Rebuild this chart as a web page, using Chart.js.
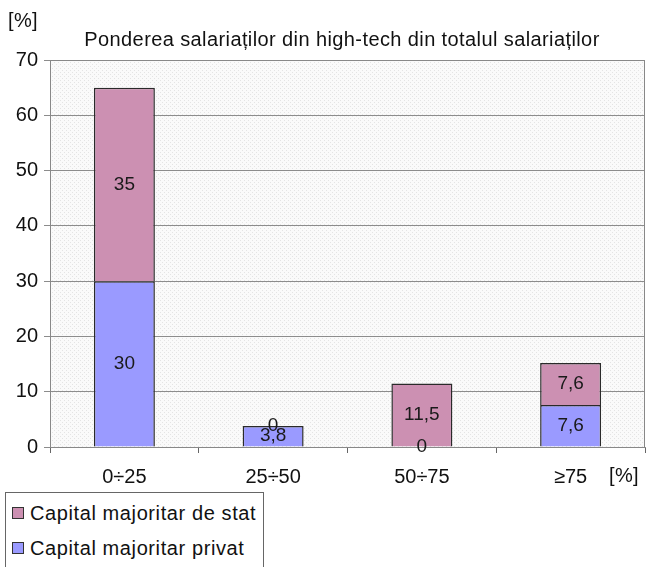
<!DOCTYPE html>
<html>
<head>
<meta charset="utf-8">
<script src="https://cdn.jsdelivr.net/npm/chart.js@4/dist/chart.umd.min.js"></script>
<style>
  body { margin: 0; background: #fff; }
  #wrap { position: relative; width: 650px; height: 567px; }
  #legend {
    position: absolute; left: 5px; top: 492px; width: 259px; height: 78px;
    border: 1px solid #666; background: #fff; box-sizing: border-box;
    font: 20px "Liberation Sans", Arial, sans-serif; color: #111; letter-spacing: 0.6px;
  }
  .item { position: absolute; left: 6px; white-space: nowrap; }
  .sw { display: inline-block; width: 10px; height: 10px; border: 1px solid #333; margin-right: 6px; vertical-align: 1px; }
</style>
</head>
<body>
<div id="wrap">
  <canvas id="c" width="650" height="567"></canvas>
  <div id="legend">
    <div class="item" style="top:9px"><span class="sw" style="background:#cc90b2"></span>Capital majoritar de stat</div>
    <div class="item" style="top:44px"><span class="sw" style="background:#9a9aff"></span>Capital majoritar privat</div>
  </div>
</div>
<script>
var CATEGORIES = ["0÷25", "25÷50", "50÷75", "≥75"];
var PRIVAT = [30, 3.8, 0, 7.6];
var STAT = [35, 0, 11.5, 7.6];
var TITLE = "Ponderea salariaților din high-tech din totalul salariaților";
var FONT = '"Liberation Sans", Arial, sans-serif';

// dotted background for the plot area
function makePattern() {
  const p = document.createElement("canvas");
  p.width = 4; p.height = 4;
  const g = p.getContext("2d");
  g.fillStyle = "#fafafa";
  g.fillRect(0, 0, 4, 4);
  g.fillStyle = "#e4e4e4";
  g.fillRect(0, 0, 1, 1);
  g.fillRect(2, 2, 1, 1);
  return g.createPattern(p, "repeat");
}

const extras = {
  id: "extras",
  beforeDraw(chart) {
    const a = chart.chartArea, ctx = chart.ctx;
    ctx.save();
    ctx.fillStyle = makePattern();
    ctx.fillRect(a.left, a.top, a.right - a.left, a.bottom - a.top);
    ctx.restore();
  },
  afterDatasetsDraw(chart) {
    const a = chart.chartArea, ctx = chart.ctx;
    ctx.save();
    // frame top/right
    ctx.strokeStyle = "#888";
    ctx.lineWidth = 1;
    ctx.beginPath();
    ctx.moveTo(a.left, a.top + 0.5);
    ctx.lineTo(a.right - 0.5, a.top + 0.5);
    ctx.lineTo(a.right - 0.5, a.bottom);
    ctx.stroke();
    // value labels
    ctx.fillStyle = "#1a1a1a";
    ctx.font = "19px " + FONT;
    ctx.textAlign = "center";
    ctx.textBaseline = "middle";
    chart.data.datasets.forEach((ds, i) => {
      chart.getDatasetMeta(i).data.forEach((bar, j) => {
        const v = ds.data[j];
        const y = (bar.y + bar.base) / 2;
        ctx.fillText(String(v).replace(".", ","), bar.x, y);
      });
    });
    // title and unit labels
    ctx.fillStyle = "#111";
    ctx.font = "20px " + FONT;
    ctx.letterSpacing = "0.4px";
    ctx.fillText(TITLE, 342, 40);
    ctx.fillText("[%]", 23, 21);
    ctx.fillText("[%]", 624, 476);
    ctx.restore();
  }
};

new Chart(document.getElementById("c"), {
  type: "bar",
  data: {
    labels: CATEGORIES,
    datasets: [
      { label: "Capital majoritar privat", data: PRIVAT, backgroundColor: "#9a9aff",
        borderColor: "#2a2a2a", borderWidth: 1.5, barPercentage: 0.82, categoryPercentage: 0.5 },
      { label: "Capital majoritar de stat", data: STAT, backgroundColor: "#cc90b2",
        borderColor: "#2a2a2a", borderWidth: 1.5, barPercentage: 0.82, categoryPercentage: 0.5 }
    ]
  },
  options: {
    responsive: false,
    animation: false,
    layout: { padding: { left: 4, right: 5, top: 60, bottom: 80 } },
    plugins: { legend: { display: false }, tooltip: { enabled: false } },
    scales: {
      x: {
        stacked: true,
        afterFit: s => { s.height = 40; },
        grid: { offset: true, drawOnChartArea: false, color: "#666", tickLength: 6 },
        border: { color: "#888", width: 1 },
        ticks: { color: "#111", font: { family: FONT, size: 20 }, padding: 12 }
      },
      y: {
        stacked: true,
        min: 0, max: 70,
        afterFit: s => { s.width = 46; },
        grid: { color: "#8c8c8c", tickLength: 6 },
        border: { color: "#888", width: 1 },
        ticks: { stepSize: 10, color: "#111", font: { family: FONT, size: 20 }, padding: 6 }
      }
    }
  },
  plugins: [extras]
});
</script>
</body>
</html>
